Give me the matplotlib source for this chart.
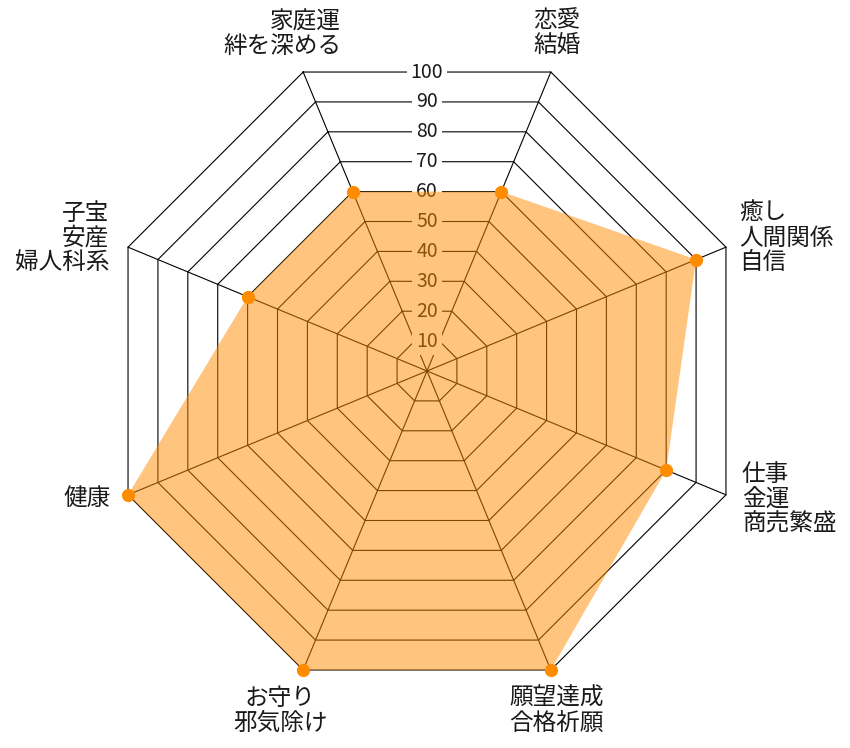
import numpy as np
import matplotlib
matplotlib.use('Agg')
import matplotlib.pyplot as plt

plt.rcParams['font.family'] = ['Noto Sans CJK JP', 'DejaVu Sans']

# data (clockwise from the top-left corner)
labels = ['家庭運\n絆を深める', '恋愛\n結婚', '癒し\n人間関係\n自信', '仕事\n金運\n商売繁盛',
          '願望達成\n合格祈願', 'お守り\n邪気除け', '健康', '子宝\n安産\n婦人科系']
values = [60, 60, 90, 80, 100, 100, 100, 60]
ticks = [10, 20, 30, 40, 50, 60, 70, 80, 90, 100]
r_max = 100

# label layout: pixel offset from the outer corner, alignment
label_off = [(38, 38), (6, 39), (13, 9), (16, -4), (6, -41), (-23, -41), (-17, -4), (-19, 9)]
label_ha = ['right', 'center', 'left', 'left', 'center', 'center', 'right', 'right']

n = len(labels)
theta = np.arange(n) * 2 * np.pi / n
theta_c = np.append(theta, theta[0])

fig = plt.figure(figsize=(8.5, 7.48), dpi=100)
cx, cy, R = 427, 371, 323.6
ax = fig.add_axes([(cx - R) / 850, (748 - cy - R) / 748, 2 * R / 850, 2 * R / 748],
                  projection='polar')
ax.set_theta_offset(np.radians(112.5))
ax.set_theta_direction(-1)
ax.set_ylim(0, r_max)
ax.set_axis_off()

# octagon grid
for t in ticks:
    ax.plot(theta_c, [t] * (n + 1), color='black', lw=0.8, zorder=1, clip_on=False)
for th in theta:
    ax.plot([th, th], [0, r_max], color='black', lw=0.8, zorder=1, clip_on=False)

# tick labels straight up, with white backdrop
up = np.pi / n
for t in ticks:
    ax.text(up, t * np.cos(up), str(t), ha='center', va='center', fontsize=14,
            color='#1a1a1a', zorder=2, clip_on=False,
            bbox=dict(boxstyle='square,pad=0.2', fc='white', ec='none'))

# data
vals_c = values + values[:1]
ax.fill(theta_c, vals_c, color='#FF8C00', alpha=0.5, lw=0, zorder=3, clip_on=False)
ax.plot(theta, values, 'o', color='#FF8C00', ms=8.5, mec='#FF8C00', zorder=4, clip_on=False)

# point labels
for th, lab, off, ha in zip(theta, labels, label_off, label_ha):
    ax.annotate(lab, xy=(th, r_max), xytext=off, textcoords='offset pixels',
                ha=ha, va='center', multialignment=ha, fontsize=17,
                linespacing=1.1, color='#1a1a1a', annotation_clip=False)

fig.savefig('out.png', dpi=100)
